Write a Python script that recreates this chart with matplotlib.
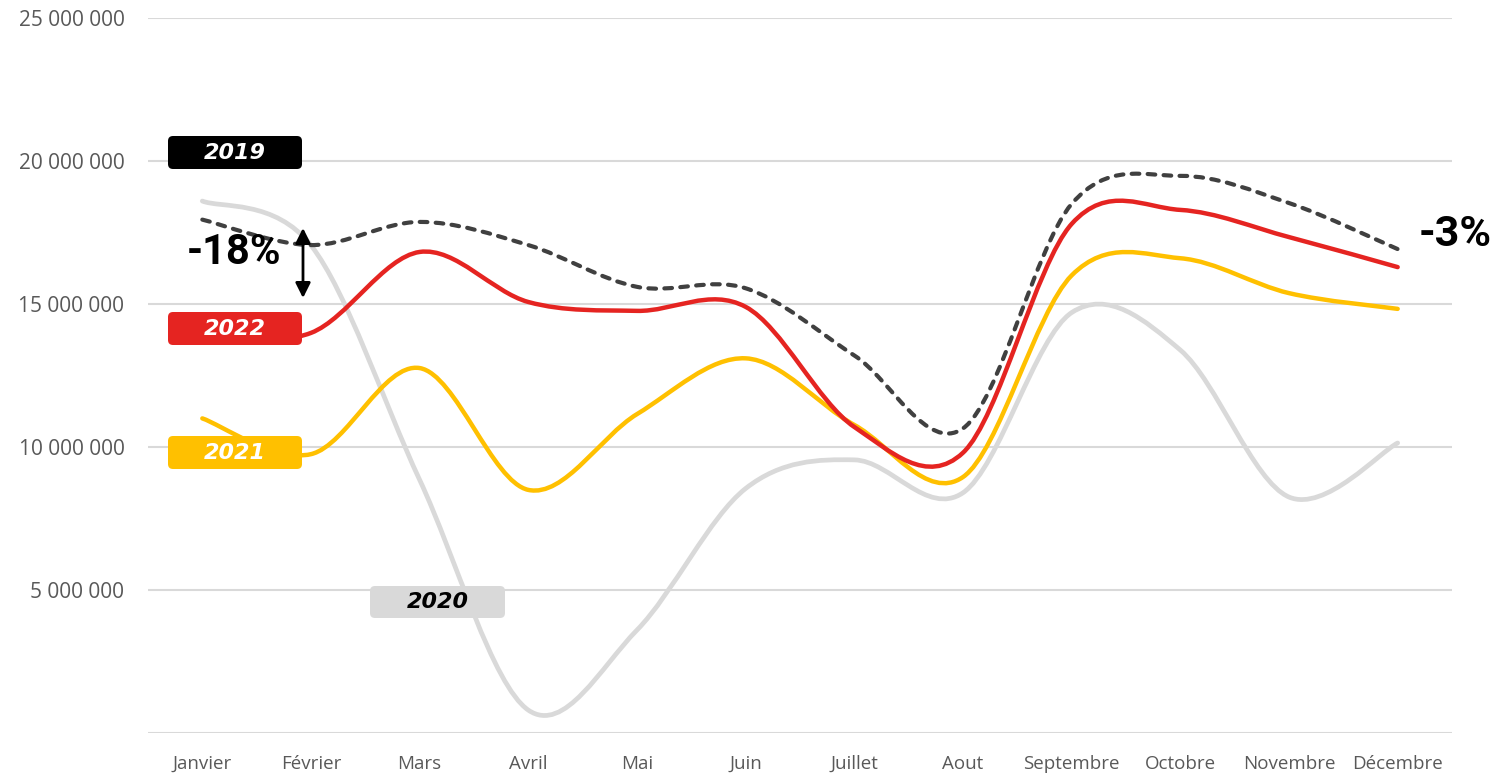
import matplotlib
matplotlib.use("Agg")
import matplotlib.pyplot as plt
import numpy as np
from matplotlib.path import Path
from matplotlib.patches import PathPatch, FancyBboxPatch

plt.rcParams['lines.scale_dashes'] = False

months = ["Janvier", "Février", "Mars", "Avril", "Mai", "Juin", "Juillet",
          "Aout", "Septembre", "Octobre", "Novembre", "Décembre"]
v2019 = [17.95, 17.06, 17.87, 17.06, 15.6, 15.55, 13.2, 10.65, 18.5, 19.48, 18.53, 16.92]
v2020 = [18.6, 17.05, 8.85, 0.8, 3.6, 8.55, 9.55, 8.4, 14.7, 13.39, 8.25, 10.14]
v2021 = [11.0, 9.75, 12.76, 8.5, 11.15, 13.1, 10.77, 8.95, 16.0, 16.6, 15.38, 14.83]
v2022 = [13.9, 13.99, 16.82, 15.07, 14.76, 14.9, 10.7, 9.8, 17.8, 18.29, 17.34, 16.29]
scale = 1e6
ytick_vals = [0, 5, 10, 15, 20, 25]
ytick_labels = ["", "5 000 000", "10 000 000", "15 000 000", "20 000 000", "25 000 000"]

W, H = 1501, 775
fig = plt.figure(figsize=(W / 100, H / 100), dpi=100)
ax = fig.add_axes([148 / W, (H - 733) / H, (1452 - 148) / W, (733 - 18) / H])
ax.set_xlim(-0.5, 11.5)
ax.set_ylim(0, 25 * scale)

for s in ax.spines.values():
    s.set_visible(False)
ax.set_yticks([v * scale for v in ytick_vals])
ax.set_yticklabels(ytick_labels)
ax.set_xticks(range(len(months)))
ax.set_xticklabels(months)
ax.tick_params(axis='both', length=0, colors='#595959')
ax.tick_params(axis='y', pad=17)
ax.tick_params(axis='x', pad=16)
for lab in ax.get_yticklabels():
    lab.set_fontfamily('Open Sans')
    lab.set_fontsize(15)
for lab in ax.get_xticklabels():
    lab.set_fontfamily('Open Sans')
    lab.set_fontsize(13.5)
ax.grid(axis='y', color='#D9D9D9', linewidth=1.5)
ax.set_axisbelow(True)


def smooth_path(vals):
    x = np.arange(len(vals), dtype=float)
    y = np.array(vals, dtype=float) * scale
    verts = [(x[0], y[0])]
    codes = [Path.MOVETO]
    n = len(x)
    for i in range(n - 1):
        p0 = (x[max(i - 1, 0)], y[max(i - 1, 0)])
        p1 = (x[i], y[i])
        p2 = (x[i + 1], y[i + 1])
        p3 = (x[min(i + 2, n - 1)], y[min(i + 2, n - 1)])
        c1 = (p1[0] + (p2[0] - p0[0]) / 6, p1[1] + (p2[1] - p0[1]) / 6)
        c2 = (p2[0] - (p3[0] - p1[0]) / 6, p2[1] - (p3[1] - p1[1]) / 6)
        verts += [c1, c2, p2]
        codes += [Path.CURVE4] * 3
    return Path(verts, codes)


def draw(vals, color, lw, z, ls='solid'):
    pp = PathPatch(smooth_path(vals), fill=False, edgecolor=color, linewidth=lw,
                   linestyle=ls, zorder=z, capstyle='round', joinstyle='round')
    ax.add_patch(pp)


draw(v2020, '#D9D9D9', 3.4, 2)
draw(v2021, '#FFC000', 3.2, 3)
draw(v2022, '#E52421', 3.2, 4)
draw(v2019, '#404040', 3.0, 5, ls=(0, (5.5, 6.0)))

# year labels
xpp = 12 / (1452 - 148)        # data x per pixel
ypp = 25 * scale / (733 - 18)  # data y per pixel


def px_x(px):
    return (px - 148) * xpp - 0.5


def px_y(py):
    return (733 - py) * ypp


def label_box(x0, x1, y0, y1, fc, text, tc):
    bx, by = px_x(x0), px_y(y1)
    w, h = (x1 - x0) * xpp, (y1 - y0) * ypp
    box = FancyBboxPatch((bx, by), w, h,
                         boxstyle=f"round,pad=0,rounding_size={5 * xpp}",
                         mutation_aspect=ypp / xpp, facecolor=fc,
                         edgecolor='none', zorder=10)
    ax.add_patch(box)
    ax.text(bx + w / 2, by + h / 2 - 0.5 * ypp, text, color=tc, fontsize=16,
            fontweight='bold', fontstyle='italic', family='DejaVu Sans',
            ha='center', va='center', zorder=11)


label_box(168, 302, 136, 169, '#000000', '2019', 'white')
label_box(168, 302, 312, 345, '#E52421', '2022', 'white')
label_box(168, 302, 436, 469, '#FFC000', '2021', 'white')
label_box(370, 505, 586, 618, '#D9D9D9', '2020', 'black')

# arrow
ax.annotate('', xy=(px_x(303), px_y(298)), xytext=(px_x(303), px_y(228)),
            arrowprops=dict(arrowstyle='<|-|>,head_length=0.9,head_width=0.45',
                            color='black', lw=2, shrinkA=0, shrinkB=0), zorder=12)

ax.text(px_x(187), px_y(252), '-18%', fontsize=30, fontweight='bold',
        family=['Roboto', 'DejaVu Sans'], ha='left', va='center',
        color='black', zorder=12)
ax.text(px_x(1419), px_y(235), '-3%', fontsize=31, fontweight='bold',
        family=['Roboto', 'DejaVu Sans'], ha='left', va='center',
        color='black', zorder=12, clip_on=False)

fig.savefig('out.png', dpi=100)
